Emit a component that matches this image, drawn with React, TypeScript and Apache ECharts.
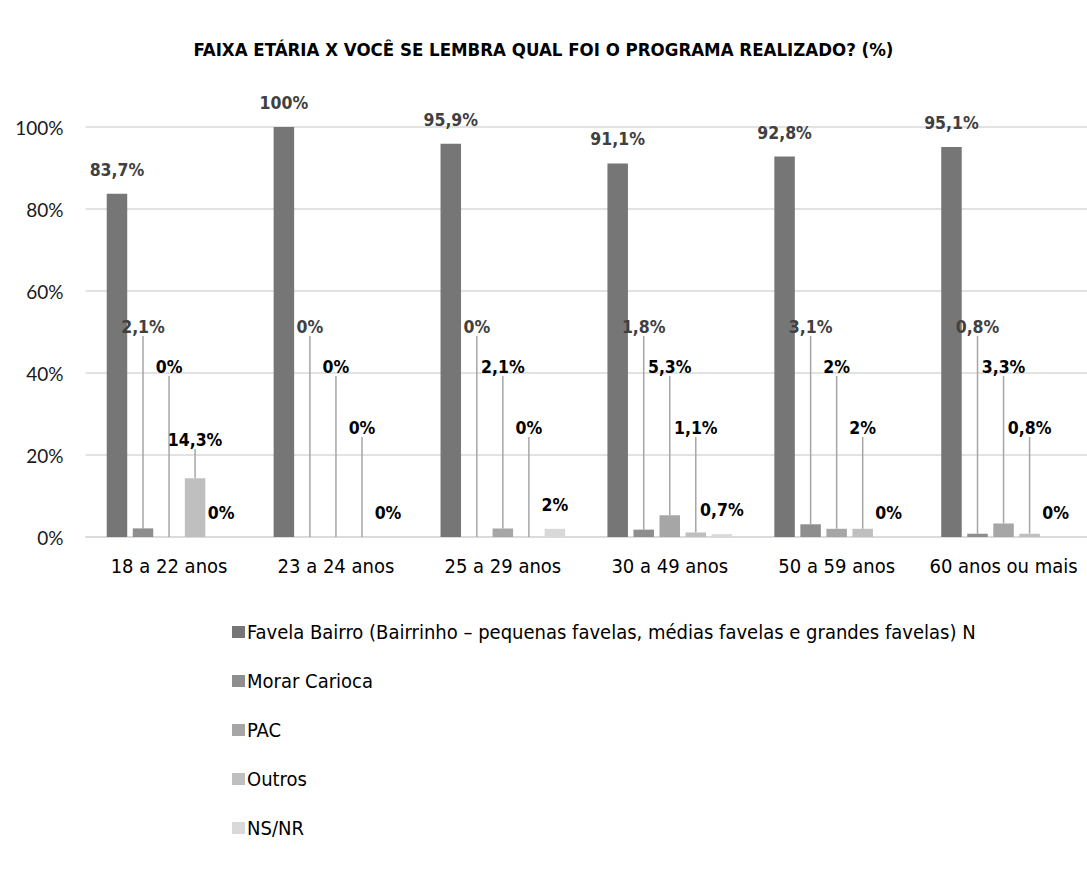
import React, { useEffect, useRef } from "react";
import * as echarts from "echarts";

const TITLE = "FAIXA ETÁRIA X VOCÊ SE LEMBRA QUAL FOI O PROGRAMA REALIZADO? (%)";
const CATEGORIES = ["18 a 22 anos", "23 a 24 anos", "25 a 29 anos", "30 a 49 anos", "50 a 59 anos", "60 anos ou mais"];
const SERIES_NAMES = [
  "Favela Bairro (Bairrinho – pequenas favelas, médias favelas e grandes favelas) N",
  "Morar Carioca",
  "PAC",
  "Outros",
  "NS/NR",
];
const FAVELA_BAIRRO = [83.7, 100, 95.9, 91.1, 92.8, 95.1];
const MORAR_CARIOCA = [2.1, 0, 0, 1.8, 3.1, 0.8];
const PAC = [0, 0, 2.1, 5.3, 2, 3.3];
const OUTROS = [14.3, 0, 0, 1.1, 2, 0.8];
const NS_NR = [0, 0, 2, 0.7, 0, 0];
const Y_TICKS = [0, 20, 40, 60, 80, 100];

const COLORS = ["#767676", "#8e8e8e", "#a6a6a6", "#bfbfbf", "#d9d9d9"];
const NARROW = "'Liberation Sans Narrow', 'Arial Narrow', 'DejaVu Sans Condensed', sans-serif";

// layout (pixels)
const GRID_LEFT = 85.6;
const GRID_TOP = 127;
const GRID_BOTTOM_Y = 537;
// label centre y for moved labels (Excel-style manual label positions)
const MORAR_LABEL_Y = [327, 327, 327, 327, 327, 327];
const PAC_LABEL_Y = [367, 367, 367, 367, 367, 367];
const OUTROS_LABEL_Y = [440, 428, 428, 428, 428, 428];

const fmt = (v: number) => String(v).replace(".", ",") + "%";

export default function App() {
  const ref = useRef<HTMLDivElement>(null);
  useEffect(() => {
    if (!ref.current) return;
    const chart = echarts.init(ref.current, null, { renderer: "svg" });
    const data = [FAVELA_BAIRRO, MORAR_CARIOCA, PAC, OUTROS, NS_NR];
    const movedY = [null, MORAR_LABEL_Y, PAC_LABEL_Y, OUTROS_LABEL_Y, null];
    const labelColors = ["#404040", "#404040", "#000000", "#000000", "#000000"];

    const series = data.map((d, i) => {
      const ys = movedY[i];
      const s: any = {
        name: SERIES_NAMES[i],
        type: "bar",
        data: d,
        barWidth: 20.5,
        barGap: "27%",
        itemStyle: { color: COLORS[i] },
        label: {
          show: true,
          position: "top",
          distance: 15,
          formatter: (p: any) => fmt(p.value),
          fontFamily: NARROW,
          fontWeight: "bold",
          fontSize: 17.5,
          color: labelColors[i],
        },
      };
      if (ys) {
        s.labelLine = { show: true, lineStyle: { color: "#a6a6a6", width: 1.5 } };
        s.labelLayout = (p: any) => {
          const cx = p.rect.x + p.rect.width / 2;
          return { x: cx, y: ys[p.dataIndex], align: "center", verticalAlign: "middle" };
        };
      }
      return s;
    });

    chart.setOption({
      animation: false,
      backgroundColor: "#ffffff",
      title: {
        text: TITLE,
        left: "center",
        top: 35,
        textStyle: { fontFamily: NARROW, fontWeight: "bold", fontSize: 18.5, color: "#000000" },
      },
      grid: {
        left: GRID_LEFT,
        right: -11.4,
        top: GRID_TOP,
        bottom: 880 - GRID_BOTTOM_Y,
        containLabel: false,
      },
      legend: {
        orient: "vertical",
        left: 232,
        top: 622,
        height: 250,
        padding: 0,
        itemWidth: 13,
        itemHeight: 12,
        itemGap: 29,
        icon: "rect",
        data: SERIES_NAMES,
        textStyle: { fontFamily: NARROW, fontSize: 20, color: "#000000", lineHeight: 20, padding: [0, 0, 0, -3] },
      },
      xAxis: {
        type: "category",
        data: CATEGORIES,
        axisLine: { lineStyle: { color: "#d9d9d9", width: 1.5 } },
        axisTick: { show: false },
        axisLabel: { fontFamily: NARROW, fontSize: 20, color: "#000000", margin: 19, interval: 0 },
      },
      yAxis: {
        type: "value",
        min: Y_TICKS[0],
        max: Y_TICKS[Y_TICKS.length - 1],
        interval: Y_TICKS[1] - Y_TICKS[0],
        axisLine: { show: false },
        axisTick: { show: false },
        splitLine: { lineStyle: { color: "#d9d9d9", width: 1.5 } },
        axisLabel: { formatter: "{value}%", fontFamily: "Lato", fontSize: 19, color: "#1a1a1a", margin: 22 },
      },
      series,
    });
    return () => chart.dispose();
  }, []);
  return (
    <div
      ref={ref}
      style={{ position: "fixed", left: 0, top: 0, width: 1087, height: 880, background: "#fff" }}
    />
  );
}
